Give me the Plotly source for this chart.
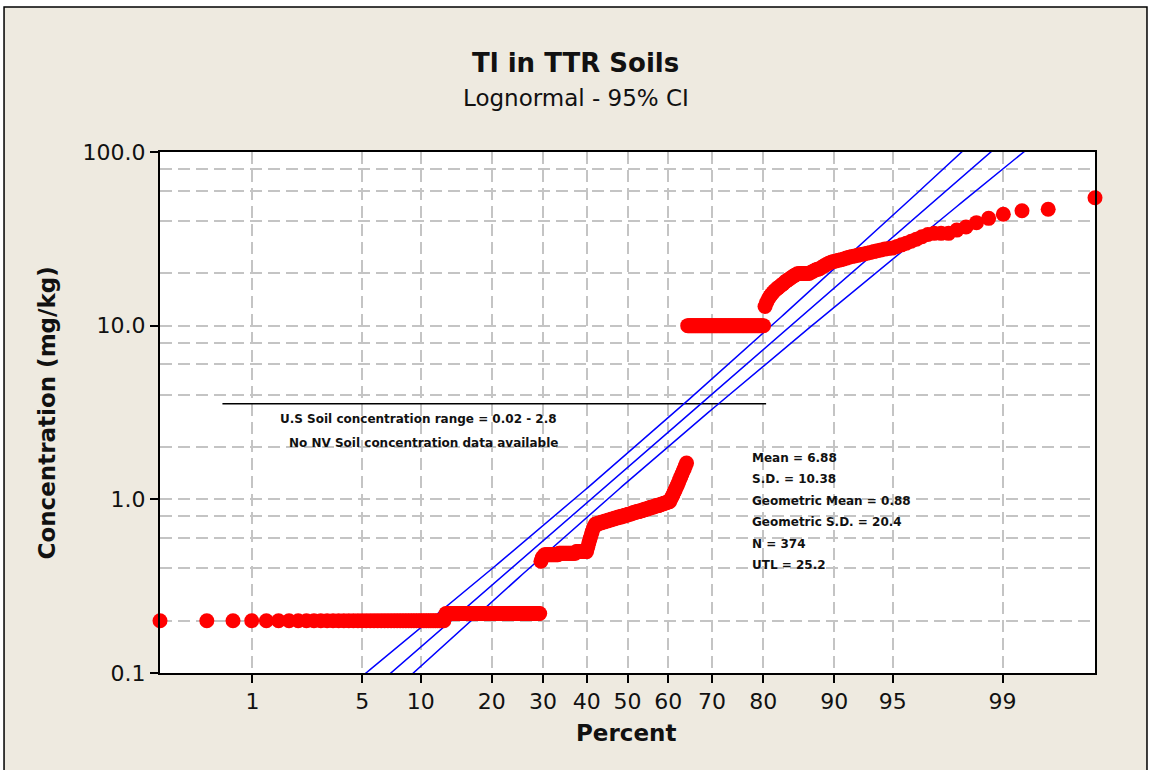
from statistics import NormalDist
import numpy as np
import plotly.graph_objects as go

# Ranked Tl results (mg/kg); repeats are tied lab values
tl_low = [0.2] * 48 + [0.22] * 62
tl_mid = ([0.44, 0.46, 0.47] + [0.48] * 12 + [0.49] * 15 + [0.5] * 10
          + [0.53, 0.56, 0.59, 0.62, 0.65, 0.68, 0.70] + [0.72] * 3
          + [0.73] * 3 + [0.74] * 3 + [0.75] * 3 + [0.76] * 3 + [0.77] * 3
          + [0.78] * 3 + [0.79] * 3 + [0.80] * 3 + [0.81] * 3 + [0.82] * 3
          + [0.83] * 2 + [0.84] * 3 + [0.85] * 3 + [0.86] * 3 + [0.87] * 2
          + [0.88] * 3 + [0.89] * 2 + [0.90] * 3 + [0.91] * 2 + [0.92] * 3
          + [0.93] * 2 + [0.94] * 2 + [0.95] * 2 + [0.96] * 2 + [0.97] * 2
          + [1.0, 1.03, 1.06, 1.1, 1.13, 1.17, 1.21, 1.25, 1.3, 1.35,
             1.4, 1.45, 1.5, 1.56, 1.62])
tl_ten = [10.0] * 59
tl_high = ([12.9, 13.6, 14.2, 14.7, 15.1, 15.5, 15.9, 16.2, 16.5, 16.8,
            17.1, 17.4, 17.8, 18.1, 18.4, 18.7, 19.0, 19.3, 19.6, 19.9]
           + [20.0] * 6
           + [20.3, 20.6, 20.9, 21.1, 21.3, 21.7, 22.1, 22.5, 22.9, 23.2,
              23.4, 23.6, 23.8, 24.0, 24.2, 24.5, 24.8, 25.0, 25.2, 25.4,
              25.7, 25.9, 26.1, 26.4, 26.7, 27.0, 27.3, 27.6, 27.8, 28.0,
              28.6, 29.2, 29.8, 30.6, 31.5, 32.5, 33.5]
           + [34.0] * 3
           + [35.5, 37.0, 39.2, 41.5, 43.8, 45.9, 46.8, 54.5])

percent_ticks = [1, 5, 10, 20, 30, 40, 50, 60, 70, 80, 90, 95, 99]
conc_ticks = [0.1, 1, 10, 100]
conc_tick_labels = ["0.1", "1.0", "10.0", "100.0"]
conc_grid = [0.2, 0.4, 0.6, 0.8, 2, 4, 6, 8, 20, 40, 60, 80]

us_range_level = 3.55          # reference line (mg/kg)
us_range_span = [0.6, 80.5]    # percent extent of the reference line
stats_lines = ["Mean = 6.88", "S.D. = 10.38", "Geometric Mean = 0.88",
               "Geometric S.D. = 20.4", "N = 374", "UTL = 25.2"]

FONT = "DejaVu Sans"
BEIGE = "#EEEAE0"
GRID = "#C4C4C4"

nd = NormalDist()
conc = np.array(tl_low + tl_mid + tl_ten + tl_high)
n = len(conc)
# median-rank plotting positions on a normal probability scale
z = np.array([nd.inv_cdf((i - 0.3) / (n + 0.4)) for i in range(1, n + 1)])

# lognormal fit (MLE) with 95% CI on percentiles
logs = np.log10(conc)
mu, sigma = logs.mean(), logs.std()
zz = np.linspace(-3.2, 3.2, 300)
fit = mu + zz * sigma
se = np.sqrt(sigma**2 / n + zz**2 * sigma**2 / (2 * n))

fig = go.Figure()

fig.add_trace(go.Scatter(
    x=[nd.inv_cdf(p / 100) for p in us_range_span],
    y=[us_range_level, us_range_level],
    mode="lines", line=dict(color="black", width=1.5), hoverinfo="skip"))

for curve in (fit - 1.96 * se, fit, fit + 1.96 * se):
    fig.add_trace(go.Scatter(x=zz, y=10**curve, mode="lines",
                             line=dict(color="#0000FF", width=1.5), hoverinfo="skip"))

fig.add_trace(go.Scatter(
    x=z, y=conc, mode="markers", cliponaxis=False,
    marker=dict(size=15, color="#FF0000", line=dict(width=0))))

# beige frame around the whole chart, white plotting area
fig.add_shape(type="rect", xref="paper", yref="paper", layer="below",
              x0=-0.1668, x1=1.0556, y0=-0.25, y1=1.2783,
              fillcolor=BEIGE, line=dict(color="black", width=1.5))
fig.add_shape(type="rect", xref="paper", yref="paper", layer="below",
              x0=0, x1=1, y0=0, y1=1, fillcolor="white", line=dict(width=0))

def note(text, x, y, size, bold=True, anchor="center", angle=0):
    fig.add_annotation(text=text, xref="paper", yref="paper", x=x, y=y,
                       showarrow=False, xanchor=anchor, yanchor="middle", textangle=angle,
                       font=dict(family=FONT, size=size, color="#111111",
                                 weight="bold" if bold else "normal"))

note("Tl in TTR Soils", 0.4444, 1.1708, 26)
note("Lognormal - 95% CI", 0.4444, 1.1036, 23, bold=False)
note("Percent", 0.4984, -0.1152, 23)
note("Concentration (mg/kg)", -0.1209, 0.5, 23, angle=-90)
note("U.S Soil concentration range = 0.02 - 2.8", 0.2765, 0.4875, 12)
note("No NV Soil concentration data available", 0.2813, 0.4415, 12)
for k, line in enumerate(stats_lines):
    note(line, 0.6315, 0.4127 - k * 0.0411, 12, anchor="left")

tickfont = dict(family=FONT, size=22, color="#111111")
fig.update_xaxes(
    range=[z[0], z[-1]], tickmode="array",
    tickvals=[nd.inv_cdf(p / 100) for p in percent_ticks],
    ticktext=[str(p) for p in percent_ticks],
    ticks="outside", ticklen=8, tickwidth=2, tickcolor="black", tickfont=tickfont,
    showline=True, linecolor="black", linewidth=2, mirror=True,
    showgrid=True, gridcolor=GRID, gridwidth=1.5, griddash="12px,6px", zeroline=False)
fig.update_yaxes(
    type="log", range=[-1, 2], tickmode="array",
    tickvals=conc_ticks, ticktext=conc_tick_labels,
    ticks="outside", ticklen=8, tickwidth=2, tickcolor="black", tickfont=tickfont,
    showline=True, linecolor="black", linewidth=2, mirror=True,
    showgrid=True, gridcolor=GRID, gridwidth=1.5, griddash="12px,6px", zeroline=False,
    minor=dict(tickmode="array", tickvals=conc_grid, ticks="", showgrid=True,
               gridcolor=GRID, gridwidth=1.5, griddash="12px,6px"))

fig.update_layout(
    width=1151, height=770,
    margin=dict(l=160, r=56, t=152, b=97),
    paper_bgcolor="white", plot_bgcolor="white",
    showlegend=False)

fig.write_html("out.html", config={"displayModeBar": False},
               post_script="document.body.style.margin='0';document.body.style.overflow='hidden';")
